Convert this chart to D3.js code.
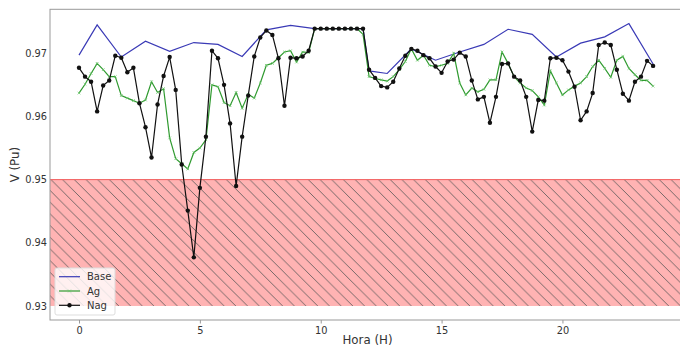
<!DOCTYPE html>
<html>
<head>
<meta charset="utf-8">
<script src="https://cdn.jsdelivr.net/npm/d3@7"></script>
<style>
  body { margin: 0; background: #fff; }
  svg { display: block; font-family: "DejaVu Sans", sans-serif; }
</style>
</head>
<body>
<div id="chart"></div>
<script>
// quarter-hour samples
const hours = d3.range(0, 24, 0.25);

const baseHours = [0, 0.75, 1.75, 2.75, 3.75, 4.75, 5.75, 6.75, 7.75, 8.75, 9.75, 10.75, 11.75,
    12, 12.75, 13.75, 14.75, 15.75, 16.75, 17.75, 18.75, 19.75, 20.75, 21.75, 22.75, 23.75];
const baseValues = [0.9697, 0.9745, 0.9694, 0.9719, 0.9703, 0.9717, 0.9714, 0.9695, 0.9737, 0.9744, 0.9739, 0.9739, 0.9739,
    0.9672, 0.9668, 0.9707, 0.9689, 0.9702, 0.9714, 0.9738, 0.9730, 0.9694, 0.9716, 0.9726, 0.9747, 0.9683];

const agValues = [
    0.9637, 0.9651, 0.9668, 0.9684,
    0.9674, 0.9663, 0.9663, 0.9633,
    0.9629, 0.9625, 0.9621, 0.9626,
    0.9655, 0.9638, 0.9644, 0.9566,
    0.9533, 0.9525, 0.9517, 0.9543,
    0.9550, 0.9563, 0.9650, 0.9647,
    0.9622, 0.9617, 0.9638, 0.9613,
    0.9635, 0.9629, 0.9653, 0.9681,
    0.9684, 0.9693, 0.9702, 0.9704,
    0.9686, 0.9702, 0.9701, 0.9739,
    0.9739, 0.9739, 0.9739, 0.9739,
    0.9739, 0.9739, 0.9739, 0.9730,
    0.9663, 0.9660, 0.9658, 0.9656,
    0.9663, 0.9674, 0.9687, 0.9707,
    0.9689, 0.9697, 0.9681, 0.9679,
    0.9681, 0.9684, 0.9700, 0.9653,
    0.9634, 0.9645, 0.9639, 0.9643,
    0.9658, 0.9658, 0.9702, 0.9684,
    0.9663, 0.9653, 0.9645, 0.9641,
    0.9631, 0.9618, 0.9672, 0.9653,
    0.9634, 0.9642, 0.9648, 0.9653,
    0.9663, 0.9679, 0.9689, 0.9676,
    0.9662, 0.9689, 0.9695, 0.9676,
    0.9666, 0.9657, 0.9657, 0.9648];

const nagValues = [
    0.9677, 0.9663, 0.9655, 0.9608,
    0.9649, 0.9657, 0.9696, 0.9693,
    0.9670, 0.9677, 0.9621, 0.9583,
    0.9535, 0.9619, 0.9664, 0.9694,
    0.9642, 0.9524, 0.9451, 0.9377,
    0.9487, 0.9568, 0.9704, 0.9692,
    0.9650, 0.9589, 0.9490, 0.9568,
    0.9633, 0.9695, 0.9725, 0.9736,
    0.9729, 0.9692, 0.9617, 0.9693,
    0.9692, 0.9695, 0.9704, 0.9739,
    0.9739, 0.9739, 0.9739, 0.9739,
    0.9739, 0.9739, 0.9739, 0.9739,
    0.9674, 0.9661, 0.9648, 0.9646,
    0.9655, 0.9676, 0.9696, 0.9707,
    0.9704, 0.9697, 0.9692, 0.9679,
    0.9669, 0.9687, 0.9690, 0.9701,
    0.9695, 0.9657, 0.9627, 0.9631,
    0.9590, 0.9631, 0.9683, 0.9684,
    0.9663, 0.9657, 0.9631, 0.9576,
    0.9626, 0.9625, 0.9692, 0.9693,
    0.9689, 0.9671, 0.9647, 0.9594,
    0.9608, 0.9637, 0.9713, 0.9717,
    0.9713, 0.9674, 0.9636, 0.9625,
    0.9655, 0.9663, 0.9688, 0.9680];

const xTicks = [0, 5, 10, 15, 20];
const yTicks = [0.93, 0.94, 0.95, 0.96, 0.97];
const limitBand = [0.93, 0.95];

const width = 680;
const height = 347;
const margin = {top: 9.3, right: -5, bottom: 27, left: 50};

const colBase = "#3a3ab6";
const colAg = "#2f9a2f";
const colNag = "#111";

const svg = d3.select("#chart").append("svg")
    .attr("width", width)
    .attr("height", height)
    .attr("viewBox", [0, 0, width, height]);

const x = d3.scaleLinear()
    .domain([-1.2, 25.07])
    .range([margin.left, width - margin.right]);

const y = d3.scaleLinear()
    .domain([0.92778, 0.97696])
    .range([height - margin.bottom, margin.top]);

// hatch pattern for the forbidden band
const hs = 11.7;
const pat = svg.append("defs").append("pattern")
    .attr("id", "hatch")
    .attr("patternUnits", "userSpaceOnUse")
    .attr("width", hs)
    .attr("height", hs);
pat.append("rect")
    .attr("width", hs)
    .attr("height", hs)
    .attr("fill", "#ffb3b3");
pat.append("path")
    .attr("d", `M0,0L${hs},${hs}M${-hs / 2},${hs / 2}L${hs / 2},${hs * 1.5}M${hs / 2},${-hs / 2}L${hs * 1.5},${hs / 2}`)
    .attr("stroke", "#555")
    .attr("stroke-width", 0.8);

svg.append("rect")
    .attr("x", x.range()[0])
    .attr("width", x.range()[1] - x.range()[0])
    .attr("y", y(limitBand[1]))
    .attr("height", y(limitBand[0]) - y(limitBand[1]))
    .attr("fill", "url(#hatch)");

svg.append("line")
    .attr("x1", x.range()[0])
    .attr("x2", x.range()[1])
    .attr("y1", y(limitBand[1]))
    .attr("y2", y(limitBand[1]))
    .attr("stroke", "#f25c5c")
    .attr("stroke-width", 1);

// axes
const xAxis = svg.append("g")
    .attr("transform", `translate(0,${height - margin.bottom})`)
    .call(d3.axisBottom(x).tickValues(xTicks).tickSize(3.5).tickPadding(3.5).tickFormat(d3.format("d")));

const yAxis = svg.append("g")
    .attr("transform", `translate(${margin.left},0)`)
    .call(d3.axisLeft(y).tickValues(yTicks).tickSize(0).tickPadding(3).tickFormat(d3.format(".2f")));

[xAxis, yAxis].forEach(g => {
    g.select(".domain").remove();
    g.selectAll(".tick line").attr("stroke", "#999");
    g.selectAll(".tick text")
        .attr("fill", "#333")
        .style("font-size", "9.8px")
        .style("font-family", "DejaVu Sans, sans-serif");
});

// frame (right edge falls outside the picture)
svg.append("rect")
    .attr("x", x.range()[0])
    .attr("y", y.range()[1])
    .attr("width", x.range()[1] - x.range()[0])
    .attr("height", y.range()[0] - y.range()[1])
    .attr("fill", "none")
    .attr("stroke", "#999")
    .attr("stroke-width", 1);

// series
const line = d3.line().x(d => x(d[0])).y(d => y(d[1]));

const baseData = d3.zip(baseHours, baseValues);
const agData = d3.zip(hours, agValues);
const nagData = d3.zip(hours, nagValues);

svg.append("path")
    .datum(baseData)
    .attr("fill", "none")
    .attr("stroke", colBase)
    .attr("stroke-width", 1.2)
    .attr("d", line);

svg.append("path")
    .datum(agData)
    .attr("fill", "none")
    .attr("stroke", colAg)
    .attr("stroke-width", 1.2)
    .attr("d", line);

function xMark(sel, s) {
    sel.append("path")
        .attr("d", `M${-s},${-s}L${s},${s}M${-s},${s}L${s},${-s}`)
        .attr("stroke", "#6cc46c")
        .attr("stroke-width", 0.8);
}

svg.append("g")
    .selectAll("g")
    .data(agData)
    .join("g")
        .attr("transform", d => `translate(${x(d[0])},${y(d[1])})`)
        .call(xMark, 1.3);

svg.append("path")
    .datum(nagData)
    .attr("fill", "none")
    .attr("stroke", colNag)
    .attr("stroke-width", 1.2)
    .attr("d", line);

svg.append("g")
    .attr("fill", colNag)
    .selectAll("circle")
    .data(nagData)
    .join("circle")
        .attr("cx", d => x(d[0]))
        .attr("cy", d => y(d[1]))
        .attr("r", 2.2);

// labels
svg.append("text")
    .attr("x", (x.range()[0] + x.range()[1]) / 2)
    .attr("y", 344)
    .attr("text-anchor", "middle")
    .attr("fill", "#333")
    .style("font-size", "11.8px")
    .text("Hora (H)");

svg.append("text")
    .attr("transform", `translate(19,${(y.range()[0] + y.range()[1]) / 2}) rotate(-90)`)
    .attr("text-anchor", "middle")
    .attr("fill", "#333")
    .style("font-size", "11.8px")
    .text("V (Pu)");

// legend
const legend = svg.append("g").attr("transform", "translate(55,268)");
legend.append("rect")
    .attr("width", 60)
    .attr("height", 47)
    .attr("rx", 2)
    .attr("fill", "#fff")
    .attr("fill-opacity", 0.8)
    .attr("stroke", "#ddd");

const items = [
    {name: "Base", color: colBase, mark: null},
    {name: "Ag", color: colAg, mark: "x"},
    {name: "Nag", color: colNag, mark: "o"}
];

const row = legend.selectAll("g.item")
    .data(items)
    .join("g")
        .attr("class", "item")
        .attr("transform", (d, i) => `translate(0,${8.7 + i * 14.3})`);

row.append("line")
    .attr("x1", 4)
    .attr("x2", 25)
    .attr("stroke", d => d.color)
    .attr("stroke-width", 1.2);

row.filter(d => d.mark === "x").append("g")
    .attr("transform", "translate(14.5,0)")
    .call(xMark, 1.3);

row.filter(d => d.mark === "o").append("circle")
    .attr("cx", 14.5)
    .attr("r", 2.2)
    .attr("fill", colNag);

row.append("text")
    .attr("x", 32)
    .attr("dy", "0.35em")
    .attr("fill", "#333")
    .style("font-size", "10px")
    .text(d => d.name);
</script>
</body>
</html>
